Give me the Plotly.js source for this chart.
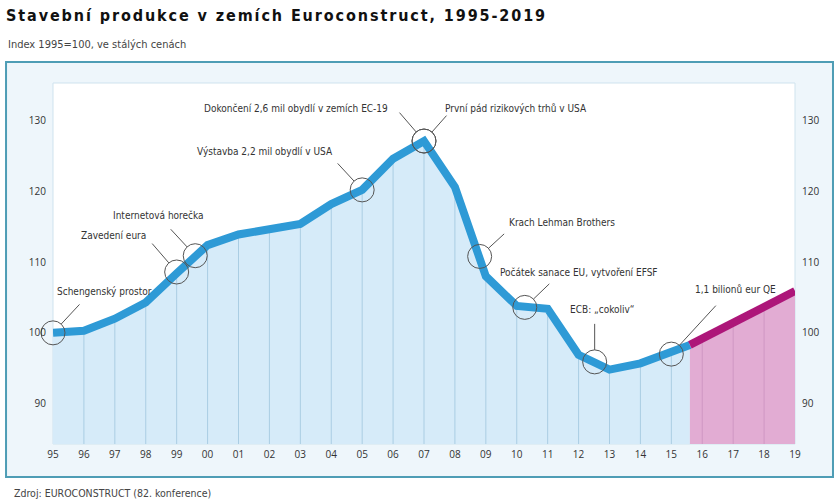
<!DOCTYPE html>
<html>
<head>
<meta charset="utf-8">
<script src="https://cdn.plot.ly/plotly-3.0.1.min.js"></script>
<style>
  html, body { margin: 0; padding: 0; background: #ffffff; }
  #chart { width: 840px; height: 504px; }
  .gtitle { letter-spacing: 1.9px; }
</style>
</head>
<body>
<div id="chart"></div>
<script>
// ---------------- DATA ----------------
const years = [1995,1996,1997,1998,1999,2000,2001,2002,2003,2004,2005,2006,2007,2008,2009,2010,2011,2012,2013,2014,2015];
const actualIndex = [100.0,100.3,102.0,104.3,108.4,112.4,113.9,114.6,115.4,118.2,120.2,124.6,127.1,120.6,108.0,103.8,103.4,96.9,94.8,95.7,97.4];
const forecastStartYear = [2015.6];
const forecastStartIndex = [98.3];
const forecastYears = [2016,2017,2018,2019];
const forecastIndex = [99.2,101.2,103.5,105.9];
const tickYears = [1995,1996,1997,1998,1999,2000,2001,2002,2003,2004,2005,2006,2007,2008,2009,2010,2011,2012,2013,2014,2015,2016,2017,2018,2019];
const tickLabels = ['95','96','97','98','99','00','01','02','03','04','05','06','07','08','09','10','11','12','13','14','15','16','17','18','19'];
const yTicks = [90,100,110,120,130];
const eventLabels = ['Schengenský prostor','Zavedení eura','Internetová horečka','Výstavba 2,2 mil obydlí v USA','Dokončení 2,6 mil obydlí v zemích EC-19','První pád rizikových trhů v USA','Krach Lehman Brothers','Počátek sanace EU, vytvoření EFSF','ECB: „cokoliv“','1,1 bilionů eur QE'];
const eventX = [1995,1999,1999.6,2005,2007,2007,2008.8,2010.26,2012.52,2015];
const eventY = [100.0,108.6,110.9,120.2,127.1,127.1,110.8,103.6,95.9,97.0];

// ---------------- STYLE / LAYOUT ----------------
const Y_RANGE = [84.3, 135.3];
const X_RANGE = [1995, 2019];
const FONT = 'DejaVu Sans Condensed, DejaVu Sans, sans-serif';
// label-centre offsets and leader-tail offsets, in pixels from each circle centre
const labelOffsets = [[51,-41],[-63,-36],[-37,-40],[-97,-38],[-128,-33],[92,-33],[82,-34],[54,-35],[7,-52],[64,-65]];
const leaderOffsets = [[27,-29],[-25,-29],[-25,-27],[-25,-27],[-25,-29],[23,-26],[25,-23],[25,-24],[0,-39],[45,-49]];

const blueX = years.concat(forecastStartYear);
const blueY = actualIndex.concat(forecastStartIndex);
const pinkX = forecastStartYear.concat(forecastYears);
const pinkY = forecastStartIndex.concat(forecastIndex);

function dropLines(xs, ys) {
  const X = [], Y = [];
  for (let i = 0; i < xs.length; i++) {
    X.push(xs[i], xs[i], null);
    Y.push(Y_RANGE[0], ys[i], null);
  }
  return {X, Y};
}
const blueDrops = dropLines(years.slice(1), actualIndex.slice(1));
const pinkDrops = dropLines(forecastYears.slice(0, -1), forecastIndex.slice(0, -1));

const traces = [
  {x: blueX, y: blueY, type: 'scatter', mode: 'lines', fill: 'tozeroy',
   fillcolor: '#d6ebf9', line: {width: 0, color: 'rgba(0,0,0,0)'}, hoverinfo: 'skip'},
  {x: pinkX, y: pinkY, type: 'scatter', mode: 'lines', fill: 'tozeroy',
   fillcolor: '#e2acd3', line: {width: 0, color: 'rgba(0,0,0,0)'}, hoverinfo: 'skip'},
  {x: blueDrops.X, y: blueDrops.Y, type: 'scatter', mode: 'lines',
   line: {width: 1, color: '#aacde3'}, hoverinfo: 'skip'},
  {x: pinkDrops.X, y: pinkDrops.Y, type: 'scatter', mode: 'lines',
   line: {width: 1, color: '#cf97c3'}, hoverinfo: 'skip'},
  {x: blueX, y: blueY, type: 'scatter', mode: 'lines',
   line: {width: 8, color: '#2e9ad6'}, hoverinfo: 'skip'},
  {x: pinkX, y: pinkY, type: 'scatter', mode: 'lines',
   line: {width: 8, color: '#ad1679'}, hoverinfo: 'skip'},
  {x: eventX, y: eventY, type: 'scatter', mode: 'markers', yaxis: 'y2', cliponaxis: false,
   marker: {symbol: 'circle-open', size: 24, color: '#555555', line: {width: 1, color: '#555555'}},
   hoverinfo: 'skip'}
];

const annotations = [];
eventLabels.forEach((t, i) => {
  annotations.push({
    x: eventX[i], y: eventY[i], xref: 'x', yref: 'y', text: ' ',
    showarrow: true, arrowhead: 0, arrowwidth: 1, arrowcolor: '#555555',
    ax: leaderOffsets[i][0], ay: leaderOffsets[i][1], standoff: 12,
    borderpad: 0, font: {family: FONT, size: 1, color: 'rgba(0,0,0,0)'}
  });
  annotations.push({
    x: eventX[i], y: eventY[i], xref: 'x', yref: 'y', text: t, showarrow: false,
    xshift: labelOffsets[i][0], yshift: -labelOffsets[i][1],
    xanchor: 'center', yanchor: 'middle',
    font: {family: FONT, size: 10, color: '#333333'}
  });
});
annotations.push({
  xref: 'paper', yref: 'paper', x: -0.0633, y: 1.108, xanchor: 'left', yanchor: 'middle',
  text: 'Index 1995=100, ve stálých cenách', showarrow: false,
  font: {family: FONT, size: 11, color: '#444444'}
});
annotations.push({
  xref: 'paper', yref: 'paper', x: -0.0553, y: -0.1357, xanchor: 'left', yanchor: 'middle',
  text: 'Zdroj: EUROCONSTRUCT (82. konference)', showarrow: false,
  font: {family: FONT, size: 10.5, color: '#444444'}
});

const axisY = {
  range: Y_RANGE, tickvals: yTicks, ticktext: yTicks.map(String),
  showgrid: false, zeroline: false, showline: false, ticks: '', fixedrange: true,
  tickfont: {family: 'Open Sans, sans-serif', size: 10, color: '#333333'}, ticklabelstandoff: 6
};

const layout = {
  width: 840, height: 504,
  margin: {l: 53, r: 45, t: 83, b: 60, pad: 0},
  paper_bgcolor: '#ffffff', plot_bgcolor: 'rgba(0,0,0,0)',
  showlegend: false,
  title: {
    text: '<b>Stavební produkce v zemích Euroconstruct, 1995-2019</b>',
    xref: 'container', yref: 'container', x: 6/840, xanchor: 'left', y: 1 - 15/504, yanchor: 'middle',
    font: {family: FONT, size: 16, color: '#111111'}
  },
  xaxis: {
    range: X_RANGE, tickvals: tickYears, ticktext: tickLabels,
    showgrid: false, zeroline: false, showline: false, ticks: '', fixedrange: true,
    tickfont: {family: 'Open Sans, sans-serif', size: 10, color: '#333333'}, ticklabelstandoff: 3
  },
  yaxis: Object.assign({}, axisY, {side: 'left'}),
  yaxis2: Object.assign({}, axisY, {side: 'right', overlaying: 'y'}),
  shapes: [
    {type: 'rect', xref: 'paper', yref: 'paper', x0: -0.0633, x1: 1.0512, y0: -0.0914, y1: 1.0582,
     fillcolor: '#eef6fb', line: {color: '#4e9db5', width: 2}, layer: 'below'},
    {type: 'rect', xref: 'paper', yref: 'paper', x0: 0, x1: 1, y0: 0, y1: 1,
     fillcolor: '#ffffff', line: {color: '#cfe3ee', width: 1}, layer: 'below'}
  ],
  annotations: annotations
};

Plotly.newPlot('chart', traces, layout, {staticPlot: true, displayModeBar: false});
</script>
</body>
</html>
